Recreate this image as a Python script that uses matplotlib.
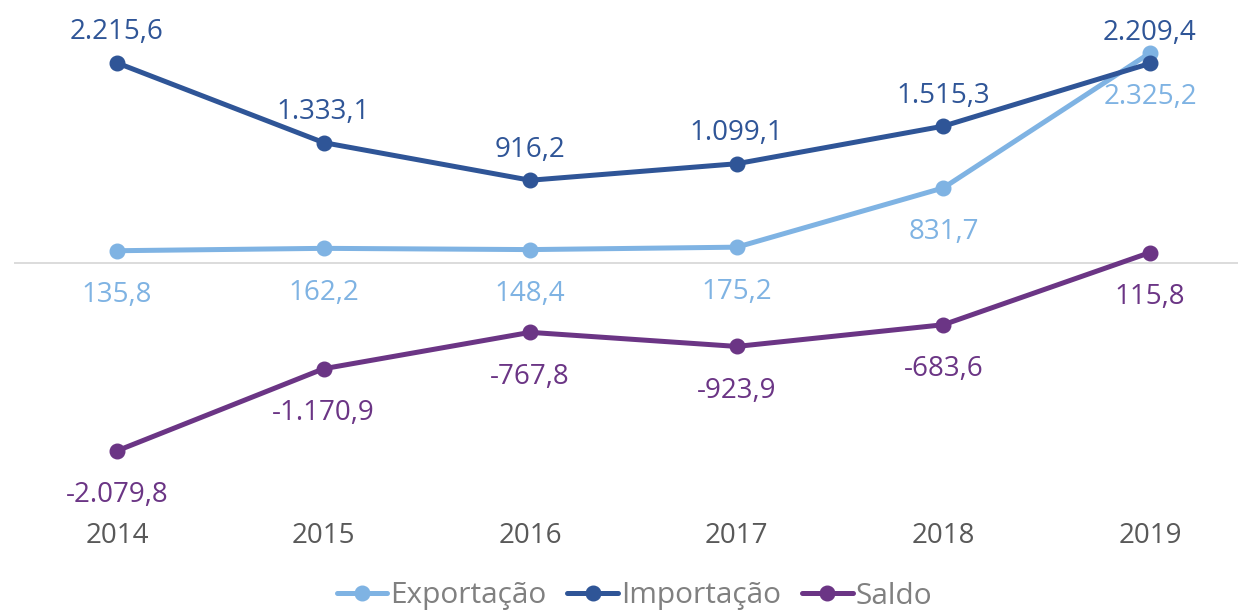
import matplotlib.pyplot as plt
import numpy as np

plt.rcParams.update({
    'font.family': ['Open Sans', 'DejaVu Sans'],
    'font.size': 20,
})

years = ['2014', '2015', '2016', '2017', '2018', '2019']
exportacao = [135.8, 162.2, 148.4, 175.2, 831.7, 2325.2]
importacao = [2215.6, 1333.1, 916.2, 1099.1, 1515.3, 2209.4]
saldo = [-2079.8, -1170.9, -767.8, -923.9, -683.6, 115.8]

c_exp = '#7fb3e3'
c_imp = '#2f5597'
c_sal = '#6b3585'


def fmt_br(v):
    s = f'{abs(v):,.1f}'.replace(',', 'X').replace('.', ',').replace('X', '.')
    return '-' + s if v < 0 else s


W, H = 1238, 610
fig = plt.figure(figsize=(W / 100, H / 100), dpi=100)
ax = fig.add_axes([14 / W, 100 / H, (W - 14) / W, 510 / H])

x = np.arange(len(years))
series = [
    (exportacao, c_exp, 'Exportação', -32),
    (importacao, c_imp, 'Importação', 22),
    (saldo, c_sal, 'Saldo', -32),
]

ax.axhline(0, color='#d9d9d9', linewidth=1.3, zorder=1)

for vals, col, name, off in series:
    ax.plot(x, vals, color=col, linewidth=3.6, marker='o', markersize=10.5,
            label=name, solid_capstyle='round', zorder=3)
    for xi, v in zip(x, vals):
        ax.annotate(fmt_br(v), (xi, v), xytext=(0, off), textcoords='offset points',
                    ha='center', va='center', color=col, fontsize=20)

ax.set_xlim(-0.4986, 5.426)
ax.set_ylim(-2735, 2912)
ax.set_xticks(x)
ax.set_xticklabels(years, color='#595959', fontsize=20)
ax.tick_params(axis='x', length=0, pad=8.5)
ax.set_yticks([])
for sp in ax.spines.values():
    sp.set_visible(False)

fig.legend(loc='center', bbox_to_anchor=(634.5 / W, 1 - 596 / H), ncol=3, frameon=False,
           handlelength=1.7, handletextpad=0.1, columnspacing=0.7,
           fontsize=21.5, labelcolor='#808080')

fig.savefig('out.png', dpi=100)
